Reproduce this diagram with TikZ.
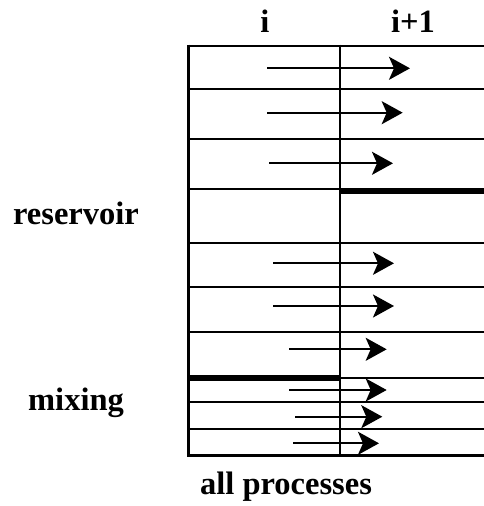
\documentclass[tikz,border=0pt]{standalone}
\usepackage{fontspec}
\setmainfont{Liberation Serif}
\usetikzlibrary{arrows.meta}
\begin{document}
\begin{tikzpicture}[x=1pt,y=-1pt,
  grid/.style={line width=2.2pt},
  wall/.style={line width=5.5pt},
  flow/.style={line width=2.2pt,-{Stealth[length=21pt,width=23pt,inset=5pt]}},
  lbl/.style={anchor=base,inner sep=0pt,font=\fontsize{32.5}{38}\selectfont\bfseries}]
  \useasboundingbox (0,0) rectangle (484,506);

  % column headings
  \node[lbl] (ci)  at (265,32) {i};
  \node[lbl] (cj)  at (413,32) {i+1};
  % side and bottom labels
  \node[lbl] (res) at (76,224) {reservoir};
  \node[lbl] (mix) at (76,410) {mixing};
  \node[lbl] (all) at (286,494) {all processes};

  % cell rows
  \foreach \y in {45.7,89,139,189,242.7,286.7,332,377.7,402.3,429.3,455.5}
    \draw[grid] (188.5,\y) -- (484,\y);
  % column borders
  \draw[grid] (188.5,44.6) -- (188.5,456.6);
  \draw[grid] (340,44.6) -- (340,456.6);
  % reservoir and mixing boundaries
  \draw[wall] (340,191) -- (484,191);
  \draw[wall] (187.4,378) -- (340,378);

  % transport from cell i to cell i+1
  \foreach \n/\xa/\xb/\y in {1/267/410/68.3, 2/267/402.7/112.7, 3/269/393/163.3,
      5/273/394/263.3, 6/273/394/306, 7/289/386.7/349.3, 8/289/386.7/390,
      9/295/382.3/416.7, 10/293/379/443.3} {
    \coordinate (s\n) at (\xa,\y);
    \coordinate (t\n) at (\xb,\y);
    \draw[flow] (s\n) -- (t\n);
  }
\end{tikzpicture}
\end{document}
